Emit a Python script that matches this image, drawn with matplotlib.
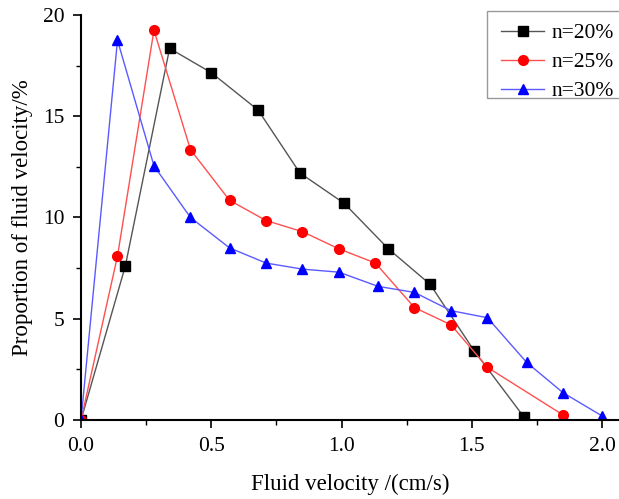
import matplotlib
matplotlib.use("Agg")
import matplotlib.pyplot as plt
from matplotlib.patches import Rectangle
from matplotlib.ticker import MultipleLocator

plt.rcParams['font.family'] = ['Liberation Serif', 'DejaVu Serif']

# Fluid velocity (cm/s) and proportion (%) for each porosity
v20 = [0.0, 0.17, 0.34, 0.50, 0.68, 0.84, 1.01, 1.18, 1.34, 1.51, 1.70]
p20 = [0.0, 7.6, 18.35, 17.15, 15.3, 12.2, 10.7, 8.45, 6.7, 3.4, 0.15]

v25 = [0.0, 0.14, 0.28, 0.42, 0.57, 0.71, 0.85, 0.99, 1.13, 1.28, 1.42, 1.56, 1.85]
p25 = [0.0, 8.1, 19.25, 13.35, 10.85, 9.85, 9.3, 8.45, 7.75, 5.55, 4.7, 2.6, 0.25]

v30 = [0.0, 0.14, 0.28, 0.42, 0.57, 0.71, 0.85, 0.99, 1.14, 1.28, 1.42, 1.56, 1.71, 1.85, 2.0]
p30 = [0.0, 18.75, 12.55, 10.0, 8.5, 7.75, 7.45, 7.3, 6.6, 6.3, 5.4, 5.05, 2.85, 1.35, 0.2]

labels = ['n=20%', 'n=25%', 'n=30%']

W, H = 619, 499
fig = plt.figure(figsize=(W / 100, H / 100), dpi=100)
ax = fig.add_axes([0.1309, 0.1583, 0.8691, 0.8117])

ax.plot(v20, p20, color='#555555', lw=1.0, marker='s', ms=6.5,
        mfc='black', mec='black', label=labels[0])
ax.plot(v25, p25, color='#ff5050', lw=1.0, marker='o', ms=7,
        mfc='#ff0000', mec='#ff0000', label=labels[1])
ax.plot(v30, p30, color='#5a5aff', lw=1.0, marker='^', ms=7.5,
        mfc='#0000ff', mec='#0000ff', label=labels[2])

ax.set_xlim(0, 2.065)
ax.set_ylim(0, 20)
ax.xaxis.set_major_locator(MultipleLocator(0.5))
ax.xaxis.set_minor_locator(MultipleLocator(0.25))
ax.yaxis.set_major_locator(MultipleLocator(5))
ax.yaxis.set_minor_locator(MultipleLocator(2.5))
ax.xaxis.set_major_formatter(plt.FuncFormatter(lambda x, p: f"{x:.1f}"))
ax.yaxis.set_major_formatter(plt.FuncFormatter(lambda y, p: f"{y:.0f}"))

for s in ('top', 'right'):
    ax.spines[s].set_visible(False)
for s in ('left', 'bottom'):
    ax.spines[s].set_linewidth(1.5)

ax.tick_params(which='major', direction='out', length=6, width=1.2,
               labelsize=15.5, pad=6)
ax.tick_params(which='minor', direction='out', length=3.5, width=1.0)

ax.set_xlabel('Fluid velocity /(cm/s)', fontsize=16.5, labelpad=13)
ax.set_ylabel('Proportion of fluid velocity/%', fontsize=16.5, labelpad=7)

# Legend entries without their own frame; a separate box is drawn around them
leg = ax.legend(loc='upper left', bbox_to_anchor=(501 / W, 1 - 23 / H),
                bbox_transform=fig.transFigure, fontsize=15.5, frameon=False,
                handlelength=2.0, handletextpad=0.37, borderpad=0.0,
                labelspacing=0.42, borderaxespad=0)

box = Rectangle((487 / W, 1 - 98 / H), 140 / W, 87 / H,
                transform=fig.transFigure, fill=False, edgecolor='#999999',
                lw=1.0, clip_on=False)
fig.add_artist(box)

fig.savefig('out.png', dpi=100)
